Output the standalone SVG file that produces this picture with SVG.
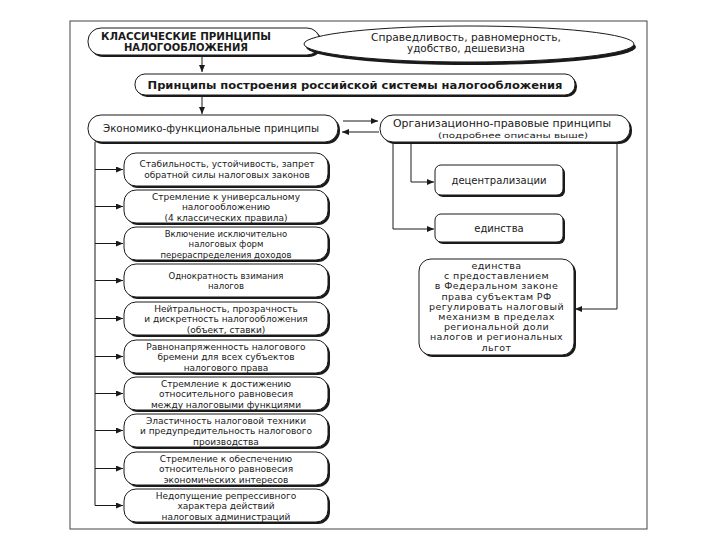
<svg xmlns="http://www.w3.org/2000/svg" width="720" height="540" viewBox="0 0 720 540">
<defs>
<style>
.sh{fill:#1a1a1a}
.bx{fill:#fff;stroke:#1a1a1a;stroke-width:1}
.t{font-family:"DejaVu Sans",sans-serif;font-size:9px;fill:#1a1a1a;text-anchor:middle}
.b{font-weight:bold}
.s85{font-size:8.5px}
.s10{font-size:10px}
.s11{font-size:11px}
.big{font-size:9.5px;letter-spacing:0.4px}
.tiny{font-size:7.5px}
.c{stroke:#1a1a1a;stroke-width:1;fill:none}
</style>
<marker id="ar" markerWidth="7" markerHeight="6" refX="7" refY="3" orient="auto" markerUnits="userSpaceOnUse">
<path d="M0,0 L7,3 L0,6 z" fill="#1a1a1a"/>
</marker>
</defs>
<rect width="720" height="540" fill="#fff"/>
<rect x="70" y="21" width="577" height="508" fill="none" stroke="#444" stroke-width="1"/>

<g id="connectors">
<path class="c" d="M202,56 V72" marker-end="url(#ar)"/>
<path class="c" d="M202,97 V114" marker-end="url(#ar)"/>
<path class="c" d="M343,121 H378" marker-end="url(#ar)"/>
<path class="c" d="M379,132 H342" marker-end="url(#ar)"/>
<path class="c" d="M95,142 V505.5"/>
<path class="c" d="M95,169.5 H123" marker-end="url(#ar)"/>
<path class="c" d="M95,206.5 H123" marker-end="url(#ar)"/>
<path class="c" d="M95,243.5 H123" marker-end="url(#ar)"/>
<path class="c" d="M95,280.5 H123" marker-end="url(#ar)"/>
<path class="c" d="M95,318.5 H123" marker-end="url(#ar)"/>
<path class="c" d="M95,356.5 H123" marker-end="url(#ar)"/>
<path class="c" d="M95,393.5 H123" marker-end="url(#ar)"/>
<path class="c" d="M95,430.5 H123" marker-end="url(#ar)"/>
<path class="c" d="M95,468.5 H123" marker-end="url(#ar)"/>
<path class="c" d="M95,505.5 H123" marker-end="url(#ar)"/>
<path class="c" d="M411,142 V182 H434" marker-end="url(#ar)"/>
<path class="c" d="M393,142 V229 H434" marker-end="url(#ar)"/>
<path class="c" d="M617,142 V309 H575" marker-end="url(#ar)"/>
</g>

<g id="classic">
<rect class="sh" x="90" y="30" width="232" height="27" rx="13"/>
<rect class="bx" x="88" y="28" width="232" height="27" rx="13"/>
<text class="t b s10" x="186" y="40" textLength="170" lengthAdjust="spacingAndGlyphs">КЛАССИЧЕСКИЕ ПРИНЦИПЫ</text>
<text class="t b s10" x="186" y="51" textLength="124" lengthAdjust="spacingAndGlyphs">НАЛОГООБЛОЖЕНИЯ</text>
</g>

<g id="classic-list">
<ellipse class="sh" cx="471" cy="47" rx="165" ry="18"/>
<ellipse class="bx" cx="469" cy="44" rx="165" ry="18"/>
<text class="t s10" x="466" y="41" textLength="190" lengthAdjust="spacingAndGlyphs">Справедливость, равномерность,</text>
<text class="t s10" x="466" y="52" textLength="118" lengthAdjust="spacingAndGlyphs">удобство, дешевизна</text>
</g>

<g id="russian">
<rect class="sh" x="137" y="76" width="440" height="21" rx="10"/>
<rect class="bx" x="135" y="74" width="440" height="21" rx="10"/>
<text class="t b s11" x="355" y="88.5" textLength="415" lengthAdjust="spacingAndGlyphs">Принципы построения российской системы налогообложения</text>
</g>

<g id="econ">
<rect class="sh" x="90" y="117" width="250" height="27" rx="13"/>
<rect class="bx" x="88" y="115" width="250" height="27" rx="13"/>
<text class="t s11" x="211" y="132" textLength="216" lengthAdjust="spacingAndGlyphs">Экономико-функциональные принципы</text>
</g>

<g id="org">
<rect class="sh" x="382" y="117" width="250" height="27" rx="13"/>
<rect class="bx" x="380" y="115" width="250" height="27" rx="13"/>
<text class="t s11" x="502" y="127" textLength="218" lengthAdjust="spacingAndGlyphs">Организационно-правовые принципы</text>
<text class="t tiny" x="513" y="138" textLength="150" lengthAdjust="spacingAndGlyphs">(подробнее описаны выше)</text>
</g>

<g id="e1">
<rect class="sh" x="126" y="155" width="204" height="33" rx="12"/>
<rect class="bx" x="124" y="153" width="204" height="33" rx="12"/>
<text class="t" x="227" y="167">Стабильность, устойчивость, запрет</text>
<text class="t" x="227" y="178">обратной силы налоговых законов</text>
</g>
<g id="e2">
<rect class="sh" x="126" y="192" width="204" height="33" rx="12"/>
<rect class="bx" x="124" y="190" width="204" height="33" rx="12"/>
<text class="t" x="226" y="199.5">Стремление к универсальному</text>
<text class="t" x="226" y="210">налогообложению</text>
<text class="t" x="226" y="220.5">(4 классических правила)</text>
</g>
<g id="e3">
<rect class="sh" x="126" y="229" width="204" height="33" rx="12"/>
<rect class="bx" x="124" y="227" width="204" height="33" rx="12"/>
<text class="t s85" x="226" y="236.5">Включение исключительно</text>
<text class="t s85" x="226" y="247">налоговых форм</text>
<text class="t s85" x="226" y="257.5">перераспределения доходов</text>
</g>
<g id="e4">
<rect class="sh" x="126" y="266" width="204" height="33" rx="12"/>
<rect class="bx" x="124" y="264" width="204" height="33" rx="12"/>
<text class="t s85" x="226" y="278.5">Однократность взимания</text>
<text class="t s85" x="226" y="289">налогов</text>
</g>
<g id="e5">
<rect class="sh" x="126" y="304" width="204" height="33" rx="12"/>
<rect class="bx" x="124" y="302" width="204" height="33" rx="12"/>
<text class="t" x="226" y="311.5">Нейтральность, прозрачность</text>
<text class="t" x="226" y="322">и дискретность налогообложения</text>
<text class="t" x="226" y="332.5">(объект, ставки)</text>
</g>
<g id="e6">
<rect class="sh" x="126" y="342" width="204" height="33" rx="12"/>
<rect class="bx" x="124" y="340" width="204" height="33" rx="12"/>
<text class="t" x="226" y="349.5">Равнонапряженность налогового</text>
<text class="t" x="226" y="360">бремени для всех субъектов</text>
<text class="t" x="226" y="370.5">налогового права</text>
</g>
<g id="e7">
<rect class="sh" x="126" y="379" width="204" height="33" rx="12"/>
<rect class="bx" x="124" y="377" width="204" height="33" rx="12"/>
<text class="t" x="226" y="386.5">Стремление к достижению</text>
<text class="t" x="226" y="397">относительного равновесия</text>
<text class="t" x="226" y="407.5">между налоговыми функциями</text>
</g>
<g id="e8">
<rect class="sh" x="126" y="416" width="204" height="33" rx="12"/>
<rect class="bx" x="124" y="414" width="204" height="33" rx="12"/>
<text class="t" x="226" y="423.5">Эластичность налоговой техники</text>
<text class="t" x="226" y="434">и предупредительность налогового</text>
<text class="t" x="226" y="444.5">производства</text>
</g>
<g id="e9">
<rect class="sh" x="126" y="454" width="204" height="33" rx="12"/>
<rect class="bx" x="124" y="452" width="204" height="33" rx="12"/>
<text class="t" x="226" y="461.5">Стремление к обеспечению</text>
<text class="t" x="226" y="472">относительного равновесия</text>
<text class="t" x="226" y="482.5">экономических интересов</text>
</g>
<g id="e10">
<rect class="sh" x="126" y="491" width="204" height="33" rx="12"/>
<rect class="bx" x="124" y="489" width="204" height="33" rx="12"/>
<text class="t" x="226" y="498.5">Недопущение репрессивного</text>
<text class="t" x="226" y="509">характера действий</text>
<text class="t" x="226" y="519.5">налоговых администраций</text>
</g>

<g id="decentral">
<rect class="sh" x="437" y="167" width="128" height="30" rx="6"/>
<rect class="bx" x="435" y="165" width="128" height="30" rx="6"/>
<text class="t s10" x="499" y="183.5">децентрализации</text>
</g>
<g id="unity">
<rect class="sh" x="437" y="216" width="128" height="28" rx="6"/>
<rect class="bx" x="435" y="214" width="128" height="28" rx="6"/>
<text class="t s10" x="499" y="231.5">единства</text>
</g>
<g id="unity-regional">
<rect class="sh" x="421" y="261" width="155" height="96" rx="12"/>
<rect class="bx" x="419" y="259" width="155" height="96" rx="12"/>
<text class="t big" x="496.5" y="269">единства</text>
<text class="t big" x="496.5" y="279.2">с предоставлением</text>
<text class="t big" x="496.5" y="289.4">в Федеральном законе</text>
<text class="t big" x="496.5" y="299.6">права субъектам РФ</text>
<text class="t big" x="496.5" y="309.8">регулировать налоговый</text>
<text class="t big" x="496.5" y="320">механизм в пределах</text>
<text class="t big" x="496.5" y="330.2">региональной доли</text>
<text class="t big" x="496.5" y="340.4">налогов и региональных</text>
<text class="t big" x="496.5" y="350.6">льгот</text>
</g>
</svg>
